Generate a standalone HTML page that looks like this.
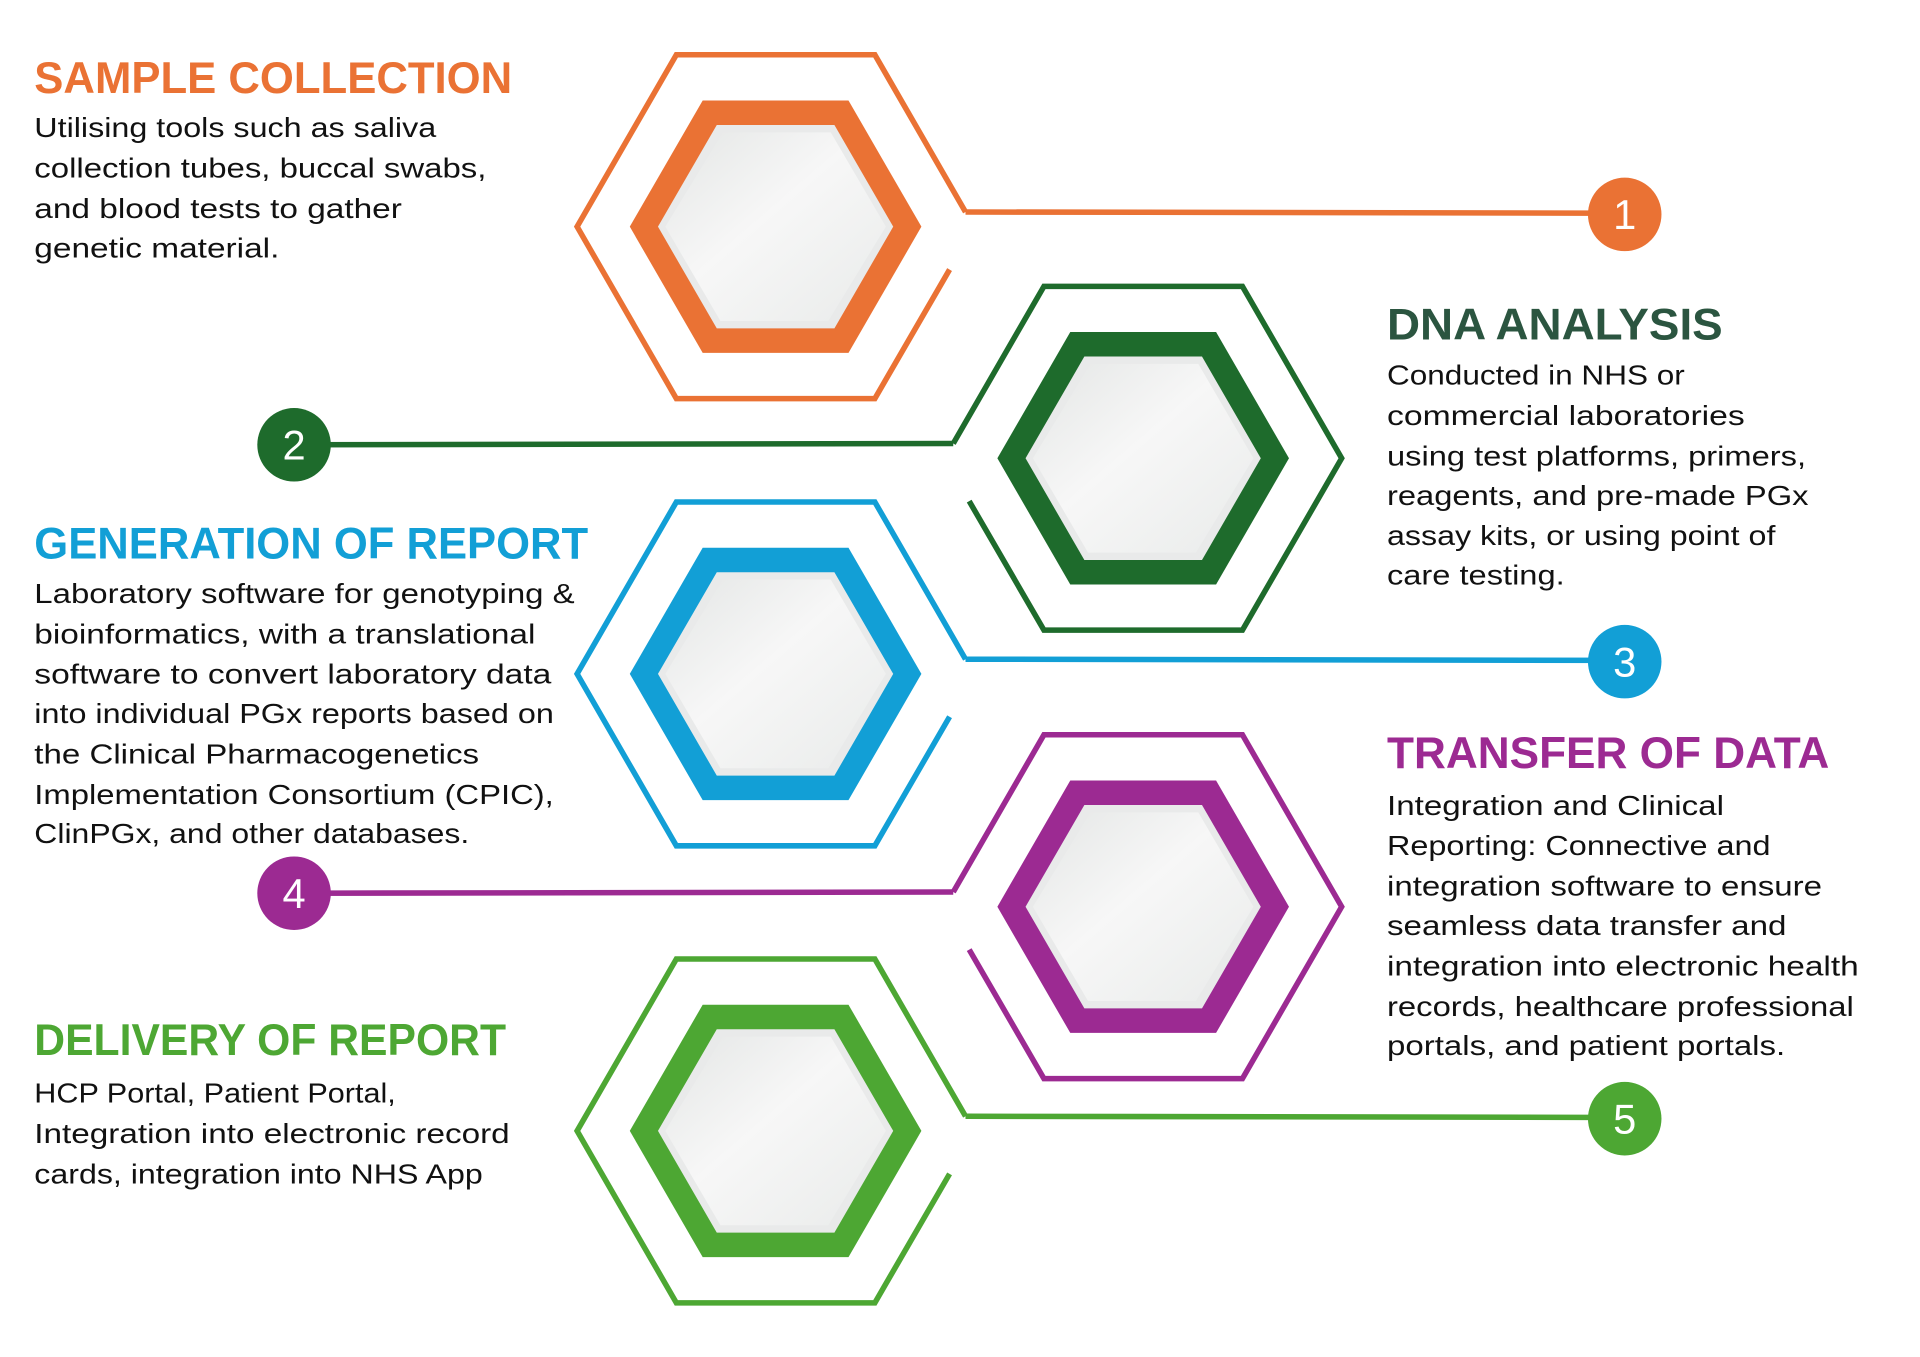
<!DOCTYPE html>
<html><head><meta charset="utf-8"><style>
html,body{margin:0;padding:0;background:#fff;}
svg{display:block;}
.h{font-family:"Liberation Sans",sans-serif;font-weight:bold;font-size:36px;}
.b{font-family:"Liberation Sans",sans-serif;font-size:22.5px;fill:#111;}
.n{font-family:"Liberation Sans",sans-serif;font-size:34px;fill:#fff;text-anchor:middle;}
</style></head><body>
<svg width="1920" height="1357" viewBox="0 0 1567 1107.5" preserveAspectRatio="none" xmlns="http://www.w3.org/2000/svg">
<defs>
<linearGradient id="g" x1="0" y1="0" x2="1" y2="1">
<stop offset="0" stop-color="#e4e6e5"/><stop offset="0.45" stop-color="#f7f7f7"/><stop offset="1" stop-color="#e9ebea"/>
</linearGradient>
<g id="core">
<polygon points="-119,0 -59.5,-103 59.5,-103 119,0 59.5,103 -59.5,103" fill="currentColor"/>
<polygon points="-96,0 -48,-83 48,-83 96,0 48,83 -48,83" fill="#e9eaea"/>
<polygon points="-90,0 -43,-77 45,-77 90,0 43,77 -45,77" fill="url(#g)"/>
</g>
<path id="oddo" d="M155,-12 L81,-140.3 L-81,-140.3 L-162,0 L-81,140.3 L81,140.3 L142,35" fill="none" stroke="currentColor" stroke-width="4.5"/>
<path id="eveno" d="M-155,-12 L-81,-140.3 L81,-140.3 L162,0 L81,140.3 L-81,140.3 L-142,35" fill="none" stroke="currentColor" stroke-width="4.5"/>
</defs>

<g transform="translate(633,185)" color="#EA7234">
<use href="#oddo"/><use href="#core"/>
<line x1="155" y1="-12" x2="693" y2="-11" stroke="currentColor" stroke-width="4.5"/>
<circle cx="693" cy="-10" r="30" fill="currentColor"/>
<text class="n" x="693" y="2">1</text>
</g>
<g transform="translate(933,374)" color="#1E6B2C">
<use href="#eveno"/><use href="#core"/>
<line x1="-155" y1="-12" x2="-693" y2="-11" stroke="currentColor" stroke-width="4.5"/>
<circle cx="-693" cy="-11" r="30" fill="currentColor"/>
<text class="n" x="-693" y="1">2</text>
</g>
<g transform="translate(633,550)" color="#129FD6">
<use href="#oddo"/><use href="#core"/>
<line x1="155" y1="-12" x2="693" y2="-11" stroke="currentColor" stroke-width="4.5"/>
<circle cx="693" cy="-10" r="30" fill="currentColor"/>
<text class="n" x="693" y="2">3</text>
</g>
<g transform="translate(933,740)" color="#9C2A92">
<use href="#eveno"/><use href="#core"/>
<line x1="-155" y1="-12" x2="-693" y2="-11" stroke="currentColor" stroke-width="4.5"/>
<circle cx="-693" cy="-11" r="30" fill="currentColor"/>
<text class="n" x="-693" y="1">4</text>
</g>
<g transform="translate(633,923)" color="#4DA733">
<use href="#oddo"/><use href="#core"/>
<line x1="155" y1="-12" x2="693" y2="-11" stroke="currentColor" stroke-width="4.5"/>
<circle cx="693" cy="-10" r="30" fill="currentColor"/>
<text class="n" x="693" y="2">5</text>
</g>

<text class="h" x="28" y="76" fill="#EA7234" textLength="390" lengthAdjust="spacingAndGlyphs">SAMPLE COLLECTION</text>
<g class="b">
<text x="28" y="112" textLength="328" lengthAdjust="spacingAndGlyphs">Utilising tools such as saliva</text>
<text x="28" y="145" textLength="369" lengthAdjust="spacingAndGlyphs">collection tubes, buccal swabs,</text>
<text x="28" y="178" textLength="300" lengthAdjust="spacingAndGlyphs">and blood tests to gather</text>
<text x="28" y="210" textLength="200" lengthAdjust="spacingAndGlyphs">genetic material.</text>
</g>

<text class="h" x="1132" y="277" fill="#2B5540" textLength="274" lengthAdjust="spacingAndGlyphs">DNA ANALYSIS</text>
<g class="b">
<text x="1132" y="314" textLength="243" lengthAdjust="spacingAndGlyphs">Conducted in NHS or</text>
<text x="1132" y="347" textLength="292" lengthAdjust="spacingAndGlyphs">commercial laboratories</text>
<text x="1132" y="380" textLength="342" lengthAdjust="spacingAndGlyphs">using test platforms, primers,</text>
<text x="1132" y="412" textLength="344" lengthAdjust="spacingAndGlyphs">reagents, and pre-made PGx</text>
<text x="1132" y="445" textLength="317" lengthAdjust="spacingAndGlyphs">assay kits, or using point of</text>
<text x="1132" y="477" textLength="145" lengthAdjust="spacingAndGlyphs">care testing.</text>
</g>

<text class="h" x="28" y="456" fill="#129FD6" textLength="452" lengthAdjust="spacingAndGlyphs">GENERATION OF REPORT</text>
<g class="b">
<text x="28" y="492" textLength="441" lengthAdjust="spacingAndGlyphs">Laboratory software for genotyping &amp;</text>
<text x="28" y="525" textLength="409" lengthAdjust="spacingAndGlyphs">bioinformatics, with a translational</text>
<text x="28" y="558" textLength="422" lengthAdjust="spacingAndGlyphs">software to convert laboratory data</text>
<text x="28" y="590" textLength="424" lengthAdjust="spacingAndGlyphs">into individual PGx reports based on</text>
<text x="28" y="623" textLength="363" lengthAdjust="spacingAndGlyphs">the Clinical Pharmacogenetics</text>
<text x="28" y="656" textLength="424" lengthAdjust="spacingAndGlyphs">Implementation Consortium (CPIC),</text>
<text x="28" y="688" textLength="355" lengthAdjust="spacingAndGlyphs">ClinPGx, and other databases.</text>
</g>

<text class="h" x="1132" y="627" fill="#9C2A92" textLength="361" lengthAdjust="spacingAndGlyphs">TRANSFER OF DATA</text>
<g class="b">
<text x="1132" y="665" textLength="275" lengthAdjust="spacingAndGlyphs">Integration and Clinical</text>
<text x="1132" y="698" textLength="313" lengthAdjust="spacingAndGlyphs">Reporting: Connective and</text>
<text x="1132" y="731" textLength="355" lengthAdjust="spacingAndGlyphs">integration software to ensure</text>
<text x="1132" y="763" textLength="326" lengthAdjust="spacingAndGlyphs">seamless data transfer and</text>
<text x="1132" y="796" textLength="385" lengthAdjust="spacingAndGlyphs">integration into electronic health</text>
<text x="1132" y="829" textLength="381" lengthAdjust="spacingAndGlyphs">records, healthcare professional</text>
<text x="1132" y="861" textLength="325" lengthAdjust="spacingAndGlyphs">portals, and patient portals.</text>
</g>

<text class="h" x="28" y="861" fill="#4DA733" textLength="385" lengthAdjust="spacingAndGlyphs">DELIVERY OF REPORT</text>
<g class="b">
<text x="28" y="900" textLength="295" lengthAdjust="spacingAndGlyphs">HCP Portal, Patient Portal,</text>
<text x="28" y="933" textLength="388" lengthAdjust="spacingAndGlyphs">Integration into electronic record</text>
<text x="28" y="966" textLength="366" lengthAdjust="spacingAndGlyphs">cards, integration into NHS App</text>
</g>
</svg>
</body></html>
